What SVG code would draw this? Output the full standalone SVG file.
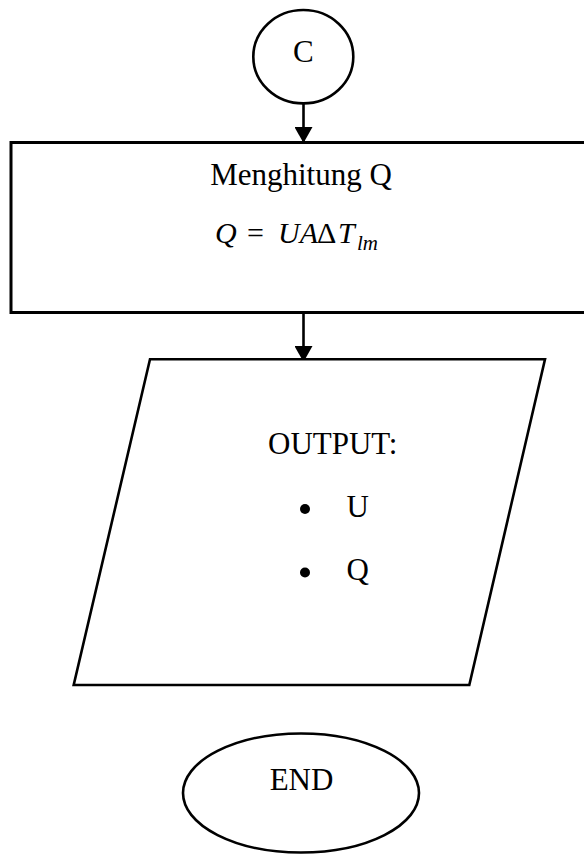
<svg xmlns="http://www.w3.org/2000/svg" width="584" height="854" viewBox="0 0 584 854">
<defs>
<style>
.shape{fill:#fff;stroke:#000;stroke-width:2.6}
.t{font-family:"Liberation Serif","Times New Roman",serif;font-size:31px;fill:#000}
.m{font-family:"Liberation Serif","Times New Roman",serif;font-size:30px;fill:#000}
.i{font-style:italic}
.conn{stroke:#000;stroke-width:2.6;fill:none}
</style>
<marker id="ah" viewBox="0 0 16 18" refX="16" refY="9" markerWidth="16" markerHeight="18" markerUnits="userSpaceOnUse" orient="auto">
<path d="M0,0 L16,9 L0,18 Z" fill="#000"/>
</marker>
</defs>
<g id="connectors">
<line class="conn" x1="303.5" y1="103.5" x2="303.5" y2="143" marker-end="url(#ah)"/>
<line class="conn" x1="303.5" y1="313" x2="303.5" y2="362" marker-end="url(#ah)"/>
</g>
<g id="node-c">
<ellipse class="shape" cx="303.3" cy="56.7" rx="50" ry="46.7"/>
<text class="t" x="303.3" y="62" text-anchor="middle">C</text>
</g>
<g id="node-compute">
<rect class="shape" x="11" y="142.5" width="590" height="170" style="stroke-width:3"/>
<text class="t" x="301" y="185" text-anchor="middle">Menghitung Q</text>
<text class="m i" x="215" y="243">Q</text>
<text class="m" x="247" y="243">=</text>
<text class="m i" x="278" y="243">UA</text>
<text class="m" x="317" y="243">Δ</text>
<text class="m i" x="338" y="243">T</text>
<text class="m i" x="357" y="250" style="font-size:21px">lm</text>
</g>
<g id="node-output">
<polygon class="shape" points="150,359.3 545,359.3 469.3,685 73.7,685"/>
<text class="t" x="268" y="454">OUTPUT:</text>
<circle cx="305" cy="509" r="5"/>
<text class="t" x="346.5" y="517">U</text>
<circle cx="305" cy="572.5" r="5"/>
<text class="t" x="346.5" y="580">Q</text>
</g>
<g id="node-end">
<ellipse class="shape" cx="301" cy="793" rx="118" ry="59.5"/>
<text class="t" x="301.5" y="790" text-anchor="middle">END</text>
</g>
</svg>
